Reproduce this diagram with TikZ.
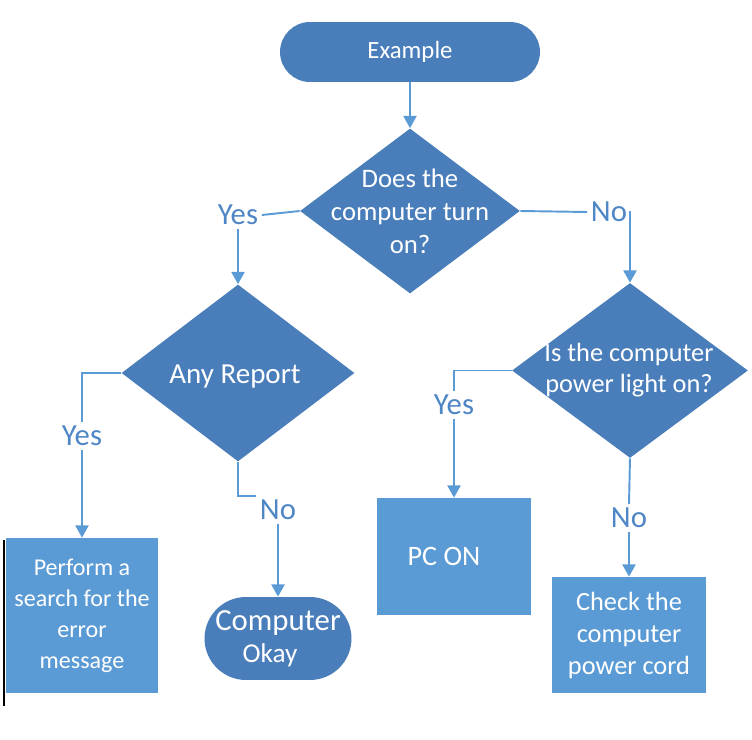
\documentclass[tikz,border=0pt]{standalone}
\usepackage{fontspec}
\setmainfont{Carlito}
\usetikzlibrary{arrows.meta, shapes.geometric}

\definecolor{flowdark}{HTML}{4A7EBB}
\definecolor{flowlight}{HTML}{5B9BD5}
\definecolor{flowline}{HTML}{5B9BD5}
\definecolor{flowlabel}{HTML}{4F86C6}

\begin{document}
\begin{tikzpicture}[x=0.02cm, y=-0.02cm,
  term/.style={fill=flowdark, text=white, align=center, inner sep=0pt},
  decision/.style={diamond, fill=flowdark, inner sep=0pt},
  dtext/.style={text=white, align=center, inner sep=0pt},
  box/.style={fill=flowlight, text=white, align=center, inner sep=0pt},
  answer/.style={text=flowlabel, font=\fontsize{17.5}{18}\selectfont, inner sep=2pt},
  line/.style={draw=flowline, line width=1.1pt},
  arrow/.style={line, -{Triangle[width=7.5pt, length=7pt]}}
]
\useasboundingbox (0,0) rectangle (752,740);
%% START
\node[term, minimum width=5.2cm, minimum height=1.2cm, rounded corners=0.6cm,
      font=\fontsize{14.1}{16}\selectfont] (start) at (410,52) {Example};
%% FIRST QUESTION
\node[decision, minimum width=4.4cm, minimum height=3.3cm] (q1) at (410,211) {};
\node[dtext, font=\fontsize{15.2}{18.8}\selectfont] (q1txt) at (q1) {Does the\\computer turn\\on?};
\node[answer] (yes1) at (238,215) {Yes};
\node[answer] (no1)  at (609,212) {No};
%% LEFT BRANCH
\node[decision, minimum width=4.66cm, minimum height=3.54cm] (q2) at (238,373) {};
\node[dtext, font=\fontsize{16.5}{18}\selectfont] (q2txt) at (235,377) {Any Report};
\node[answer] (yes2) at (82,436) {Yes};
\node[answer] (no2)  at (278,510) {No};
\node[box, minimum width=3.04cm, minimum height=3.1cm,
      font=\fontsize{13.7}{17.6}\selectfont] (search) at (82,615.5)
      {Perform a\\search for the\\error\\message};
\node[term, minimum width=2.94cm, minimum height=1.66cm, rounded corners=0.83cm,
      font=\fontsize{15.5}{18.2}\selectfont] (okay) at (278,638.5)
      {{\fontsize{17.5}{18.2}\selectfont Computer}\\Okay\hspace*{0.32cm}};
%% RIGHT BRANCH
\node[decision, minimum width=4.72cm, minimum height=3.5cm] (q3) at (630,370.5) {};
\node[dtext, font=\fontsize{15}{17.6}\selectfont] (q3txt) at (629,370) {Is the computer\\power light on?};
\node[answer] (yes3) at (454,405) {Yes};
\node[answer] (no3)  at (629,518) {No};
\node[box, minimum width=3.1cm, minimum height=2.34cm,
      font=\fontsize{16}{18}\selectfont] (pcon) at (454,556.5) {PC ON\hspace*{0.4cm}};
\node[box, minimum width=3.1cm, minimum height=2.32cm,
      font=\fontsize{15}{18.2}\selectfont] (cord) at (629,635)
      {Check the\\computer\\power cord};
%% CONNECTORS
\draw[arrow] (start.south) -- (q1.north);
\draw[line]  (q1.west) -- (yes1.east);
\draw[arrow] (yes1.south) -- (q2.north);
\draw[line]  (q1.east) -- (no1.west);
\draw[arrow] (no1.east) -| (q3.north);
\draw[line]  (q2.west) -| (yes2.north);
\draw[arrow] (yes2.south) -- (search.north);
\draw[line]  (q2.south) |- (no2.north west);
\draw[arrow] (no2.south) -- (okay.north);
\draw[line]  (q3.west) -| (yes3.north);
\draw[arrow] (yes3.south) -- (pcon.north);
\draw[line]  (q3.south) -- (no3.north);
\draw[arrow] (no3.south) -- (cord.north);
%% EDGE MARK
\draw[black, line width=0.8pt] (4,540) -- (4,706);
\end{tikzpicture}
\end{document}
